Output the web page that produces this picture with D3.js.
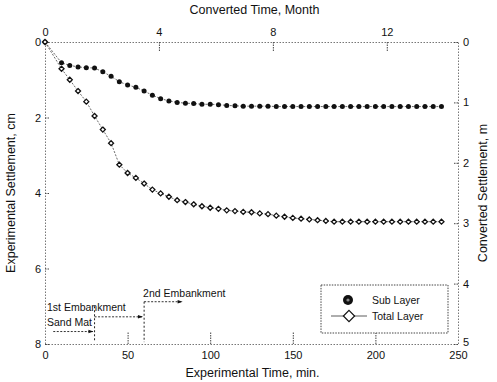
<!DOCTYPE html>
<html>
<head>
<meta charset="utf-8">
<script src="https://cdn.jsdelivr.net/npm/d3@7"></script>
<style>
  body { margin: 0; background: #fff; }
  text { font-family: "Liberation Sans", Arial, sans-serif; fill: #111; }
</style>
</head>
<body>
<script>
// experimental time (min)
const time = [0, 10, 15, 20, 25, 30, 35, 40, 45, 50, 55, 60,
  65, 70, 75, 80, 85, 90, 95, 100, 105, 110, 115, 120,
  125, 130, 135, 140, 145, 150, 155, 160, 165, 170, 175, 180,
  185, 190, 195, 200, 205, 210, 215, 220, 225, 230, 235, 240];
// settlement (cm)
const subLayer = [0, 0.55, 0.62, 0.66, 0.68, 0.69, 0.79, 0.91, 1.05, 1.14, 1.20, 1.30,
  1.41, 1.50, 1.56, 1.60, 1.62, 1.63, 1.65, 1.65, 1.66, 1.68, 1.69, 1.70,
  1.70, 1.70, 1.70, 1.71, 1.71, 1.71, 1.71, 1.71, 1.71, 1.71, 1.71, 1.71,
  1.71, 1.71, 1.71, 1.71, 1.71, 1.71, 1.71, 1.71, 1.71, 1.71, 1.71, 1.71];
const totalLayer = [0, 0.71, 1.00, 1.30, 1.58, 1.96, 2.32, 2.68, 3.25, 3.47, 3.60, 3.75,
  3.91, 4.01, 4.10, 4.19, 4.24, 4.30, 4.35, 4.39, 4.42, 4.46, 4.48, 4.50,
  4.51, 4.54, 4.56, 4.60, 4.63, 4.66, 4.68, 4.70, 4.72, 4.74, 4.76, 4.76,
  4.76, 4.76, 4.76, 4.76, 4.76, 4.76, 4.76, 4.76, 4.76, 4.76, 4.76, 4.76];

const xTicks = [0, 50, 100, 150, 200, 250];
const monthTicks = [0, 4, 8, 12];
const cmTicks = [0, 2, 4, 6, 8];
const mTicks = [0, 1, 2, 3, 4, 5];

// loading stages: label, start/end (min), text level and arrow level (cm)
const stages = [
  {label: "Sand Mat", start: 5, end: 29, textY: 7.52, arrowY: 7.67},
  {label: "1st Embankment", start: 30, end: 59, textY: 7.13, arrowY: 7.28},
  {label: "2nd Embankment", start: 60, end: 83, textY: 6.75, arrowY: 6.88}
];
const stageLines = [{t: 30, from: 7.0, to: 7.95}, {t: 60, from: 6.88, to: 7.95}];

let svg, x, xm, y, ym;
const W = 497, H = 382;
const margin = {top: 42, left: 45, right: 39, bottom: 38};

appendSvg("body");
setupScales();
appendAxes();
appendAnnotations();
appendSeries();
appendLegend();

function appendSvg(domElement) {
  svg = d3.select(domElement).append("svg")
    .attr("width", W)
    .attr("height", H);
  svg.append("defs").append("marker")
    .attr("id", "arr")
    .attr("viewBox", "0 0 10 10")
    .attr("refX", 9).attr("refY", 5)
    .attr("markerWidth", 7).attr("markerHeight", 5)
    .attr("orient", "auto")
    .append("path").attr("d", "M0,1.5 L10,5 L0,8.5 Z").attr("fill", "#111");
}

function setupScales() {
  x = d3.scaleLinear().domain([0, 250]).range([margin.left, W - margin.right]);
  xm = d3.scaleLinear().domain([0, 14.5]).range([margin.left, W - margin.right]);
  y = d3.scaleLinear().domain([0, 8]).range([margin.top, H - margin.bottom]);
  ym = d3.scaleLinear().domain([0, 5]).range([margin.top, H - margin.bottom]);
}

function styleAxis(g) {
  g.select(".domain").attr("stroke", "#777").attr("stroke-dasharray", "1.5,1.5");
  g.selectAll(".tick line").attr("stroke", "#444").attr("stroke-dasharray", "1.5,1");
  g.selectAll(".tick text").attr("font-size", 11).attr("fill", "#111")
    .attr("font-family", "Liberation Sans, Arial, sans-serif");
}

function appendAxes() {
  const top = margin.top, bottom = H - margin.bottom;
  const left = margin.left, right = W - margin.right;
  const fmt = d3.format("d");

  svg.append("g").attr("transform", `translate(0,${bottom})`)
    .call(d3.axisBottom(x).tickValues(xTicks).tickFormat(fmt).tickSizeInner(-12).tickSizeOuter(0).tickPadding(7))
    .call(styleAxis)
    .call(g => g.selectAll(".tick line").filter(d => d === 0 || d === 250).remove());

  svg.append("g").attr("transform", `translate(0,${top})`)
    .call(d3.axisTop(xm).tickValues(monthTicks).tickFormat(fmt).tickSizeInner(-10).tickSizeOuter(0).tickPadding(6))
    .call(styleAxis)
    .call(g => g.selectAll(".tick line").filter(d => d === 0).remove());

  svg.append("g").attr("transform", `translate(${left},0)`)
    .call(d3.axisLeft(y).tickValues(cmTicks).tickFormat(fmt).tickSizeInner(-5).tickSizeOuter(0).tickPadding(4))
    .call(styleAxis);

  svg.append("g").attr("transform", `translate(${right},0)`)
    .call(d3.axisRight(ym).tickValues(mTicks).tickFormat(fmt).tickSizeInner(-5).tickSizeOuter(0).tickPadding(5))
    .call(styleAxis)
    .call(g => g.selectAll(".tick text").filter(d => d === 5).attr("dy", "0.1em"));

  svg.append("text").attr("x", (left + right) / 2 + 3).attr("y", 14)
    .attr("text-anchor", "middle").attr("font-size", 12.5).text("Converted Time, Month");
  svg.append("text").attr("x", (left + right) / 2 + 1).attr("y", 377)
    .attr("text-anchor", "middle").attr("font-size", 12.5).text("Experimental Time, min.");
  svg.append("text").attr("transform", `translate(15,${(top + bottom) / 2}) rotate(-90)`)
    .attr("text-anchor", "middle").attr("font-size", 12.5).text("Experimental Settlement, cm");
  svg.append("text").attr("transform", `translate(487,${(top + bottom) / 2}) rotate(-90)`)
    .attr("text-anchor", "middle").attr("font-size", 12.5).text("Converted Settlement, m");
}

function appendAnnotations() {
  svg.selectAll(".stage-line").data(stageLines).enter().append("line")
    .attr("x1", d => x(d.t)).attr("x2", d => x(d.t))
    .attr("y1", d => y(d.from)).attr("y2", d => y(d.to))
    .attr("stroke", "#222").attr("stroke-dasharray", "2,2");

  svg.selectAll(".stage-arrow").data(stages).enter().append("line")
    .attr("x1", d => x(d.start)).attr("x2", d => x(d.end))
    .attr("y1", d => y(d.arrowY)).attr("y2", d => y(d.arrowY))
    .attr("stroke", "#333").attr("stroke-dasharray", "2,1.5")
    .attr("marker-end", "url(#arr)");

  svg.selectAll(".stage-text").data(stages).enter().append("text")
    .attr("x", (d, i) => i < 2 ? x(0) + 2 : x(60) - 1)
    .attr("y", d => y(d.textY))
    .attr("font-size", 10.5)
    .text(d => d.label);
}

function appendSeries() {
  const subData = time.map((t, i) => ({t: t, v: subLayer[i]}));
  const totData = time.map((t, i) => ({t: t, v: totalLayer[i]}));
  const line = d3.line().x(d => x(d.t)).y(d => y(d.v));

  svg.append("path").datum(subData).attr("d", line)
    .attr("fill", "none").attr("stroke", "#444").attr("stroke-width", 0.8)
    .attr("stroke-dasharray", "2,1.5");
  svg.append("path").datum(totData).attr("d", line)
    .attr("fill", "none").attr("stroke", "#444").attr("stroke-width", 0.8)
    .attr("stroke-dasharray", "2,1.5");

  svg.selectAll(".sub").data(subData).enter().append("circle")
    .attr("cx", d => x(d.t)).attr("cy", d => y(d.v))
    .attr("r", 2.5).attr("fill", "#111");

  const diamond = d3.symbol().type(d3.symbolDiamond2).size(16);
  svg.selectAll(".tot").data(totData).enter().append("path")
    .attr("d", diamond)
    .attr("transform", d => `translate(${x(d.t)},${y(d.v)})`)
    .attr("fill", "#fff").attr("stroke", "#111").attr("stroke-width", 1.3);
}

function appendLegend() {
  const g = svg.append("g");
  g.append("rect").attr("x", 321).attr("y", 285).attr("width", 127).attr("height", 48)
    .attr("fill", "#fff").attr("stroke", "#444").attr("stroke-dasharray", "1.5,1.2");
  g.append("circle").attr("cx", 348).attr("cy", 300).attr("r", 5).attr("fill", "#111");
  g.append("circle").attr("cx", 348).attr("cy", 300).attr("r", 1.6).attr("fill", "#888");
  g.append("text").attr("x", 372).attr("y", 304).attr("font-size", 10.5).text("Sub Layer");
  g.append("line").attr("x1", 331).attr("x2", 367).attr("y1", 316).attr("y2", 316)
    .attr("stroke", "#333").attr("stroke-width", 0.8);
  g.append("path").attr("d", d3.symbol().type(d3.symbolDiamond2).size(80))
    .attr("transform", "translate(349,316)")
    .attr("fill", "#fff").attr("stroke", "#111").attr("stroke-width", 1.2);
  g.append("text").attr("x", 372).attr("y", 320).attr("font-size", 10.5).text("Total Layer");
}
</script>
</body>
</html>
